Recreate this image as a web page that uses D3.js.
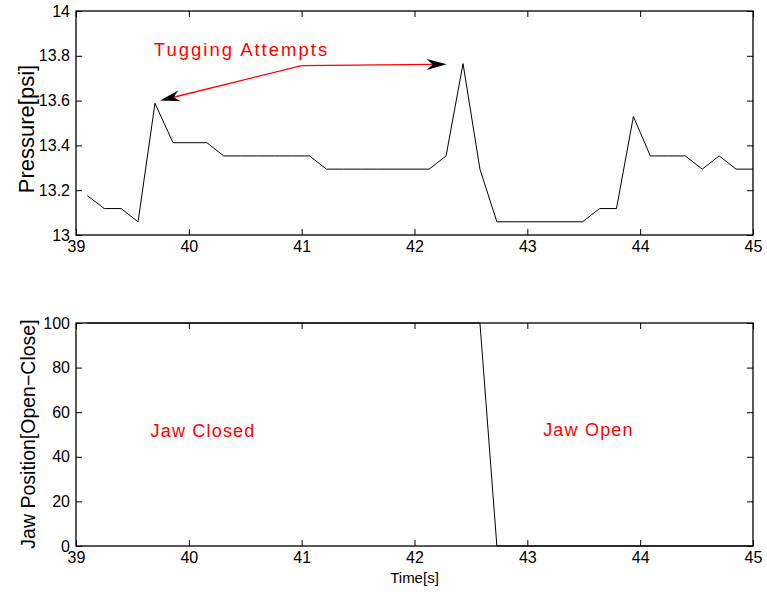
<!DOCTYPE html>
<html>
<head>
<meta charset="utf-8">
<script src="https://cdn.jsdelivr.net/npm/d3@7"></script>
<style>
  body { margin: 0; background: #fff; }
  svg { display: block; font-family: "Liberation Sans", Arial, sans-serif; }
  .tick text { font-size: 16px; fill: #000; }
  .tick line { stroke: #000; }
</style>
</head>
<body>
<div id="chart"></div>
<script>
// sample times (s) and readings
const times = [39.10, 39.25, 39.40, 39.55, 39.70, 39.86, 40.01, 40.16, 40.31, 40.46,
               40.61, 40.76, 40.92, 41.07, 41.22, 41.37, 41.52, 41.67, 41.82, 41.97,
               42.13, 42.28, 42.43, 42.58, 42.73, 42.88, 43.03, 43.18, 43.34, 43.49,
               43.64, 43.79, 43.94, 44.09, 44.24, 44.40, 44.55, 44.70, 44.85, 45.00];
const pressure = [13.176, 13.118, 13.118, 13.059, 13.588, 13.412, 13.412, 13.412, 13.353, 13.353,
                  13.353, 13.353, 13.353, 13.353, 13.294, 13.294, 13.294, 13.294, 13.294, 13.294,
                  13.294, 13.353, 13.765, 13.294, 13.059, 13.059, 13.059, 13.059, 13.059, 13.059,
                  13.118, 13.118, 13.529, 13.353, 13.353, 13.353, 13.294, 13.353, 13.294, 13.294];
const jaw = [100, 100, 100, 100, 100, 100, 100, 100, 100, 100,
             100, 100, 100, 100, 100, 100, 100, 100, 100, 100,
             100, 100, 100, 100, 0, 0, 0, 0, 0, 0,
             0, 0, 0, 0, 0, 0, 0, 0, 0, 0];

const xTicks = [39, 40, 41, 42, 43, 44, 45];
const pressureTicks = [13, 13.2, 13.4, 13.6, 13.8, 14];
const jawTicks = [0, 20, 40, 60, 80, 100];

// annotation: arrows start at one point and point at the two pressure peaks
const arrowStart = [41, 13.756];
const arrowEnds = [[39.745, 13.60], [42.285, 13.762]];

const W = 767, H = 592;
const left = 76, right = 753;

const svg = d3.select("#chart").append("svg")
    .attr("width", W).attr("height", H);

const x = d3.scaleLinear().domain([39, 45]).range([left, right]);

function drawPanel(top, bottom, yDomain, yTicks, values, yFormat) {
    const y = d3.scaleLinear().domain(yDomain).range([bottom, top]);
    const g = svg.append("g");
    const clipId = "clip" + top;
    g.append("clipPath").attr("id", clipId)
        .append("rect").attr("x", left).attr("y", top - 1)
        .attr("width", right - left).attr("height", bottom - top + 2);

    g.append("path")
        .datum(times.map((t, i) => [t, values[i]]))
        .attr("clip-path", `url(#${clipId})`)
        .attr("fill", "none").attr("stroke", "#000").attr("stroke-width", 1)
        .attr("d", d3.line().x(d => x(d[0])).y(d => y(d[1])));

    // inward ticks on all four sides like MATLAB
    g.append("g").attr("transform", `translate(0,${bottom})`)
        .call(d3.axisBottom(x).tickValues(xTicks).tickSizeInner(-6).tickSizeOuter(0).tickPadding(6).tickFormat(d3.format("d")))
        .call(a => a.select(".domain").remove());
    g.append("g").attr("transform", `translate(0,${top})`)
        .call(d3.axisTop(x).tickValues(xTicks).tickSizeInner(-6).tickSizeOuter(0).tickFormat(""))
        .call(a => a.select(".domain").remove());
    g.append("g").attr("transform", `translate(${left},0)`)
        .call(d3.axisLeft(y).tickValues(yTicks).tickSizeInner(-6).tickSizeOuter(0).tickPadding(6).tickFormat(yFormat))
        .call(a => a.select(".domain").remove());
    g.append("g").attr("transform", `translate(${right},0)`)
        .call(d3.axisRight(y).tickValues(yTicks).tickSizeInner(-6).tickSizeOuter(0).tickFormat(""))
        .call(a => a.select(".domain").remove());

    g.append("rect").attr("x", left).attr("y", top)
        .attr("width", right - left).attr("height", bottom - top)
        .attr("fill", "none").attr("stroke", "#000").attr("stroke-width", 1.3);
    return y;
}

const yP = drawPanel(11, 235, [13, 14], pressureTicks, pressure, d => d3.format("")(+d.toFixed(1)));
const yJ = drawPanel(323, 546, [0, 100], jawTicks, jaw, d3.format("d"));

// axis titles
svg.append("text").attr("transform", "translate(34,129) rotate(-90)")
    .attr("text-anchor", "middle").style("font-size", "22px").text("Pressure[psi]");
svg.append("text").attr("transform", "translate(35,434) rotate(-90)")
    .attr("text-anchor", "middle").style("font-size", "19.5px").text("Jaw Position[Open\u2212Close]");
svg.append("text").attr("x", (left + right) / 2).attr("y", 583)
    .attr("text-anchor", "middle").style("font-size", "15px").text("Time[s]");

// annotations
svg.append("text").attr("x", x(39.69)).attr("y", yP(13.8))
    .attr("fill", "#ff0000").style("font-size", "18.5px").style("letter-spacing", "2px")
    .text("Tugging Attempts");
svg.append("text").attr("x", x(39.66)).attr("y", yJ(49))
    .attr("fill", "#ff0000").style("font-size", "18px").style("letter-spacing", "1.2px")
    .text("Jaw Closed");
svg.append("text").attr("x", x(43.14)).attr("y", yJ(49.3))
    .attr("fill", "#ff0000").style("font-size", "18px").style("letter-spacing", "1.2px")
    .text("Jaw Open");

const headLen = 20, headHalf = 5.5, notch = 14;
arrowEnds.forEach(end => {
    const x0 = x(arrowStart[0]), y0 = yP(arrowStart[1]);
    const x1 = x(end[0]), y1 = yP(end[1]);
    const ang = Math.atan2(y1 - y0, x1 - x0);
    const ux = Math.cos(ang), uy = Math.sin(ang);
    const nx = x1 - ux * notch, ny = y1 - uy * notch;
    svg.append("line").attr("x1", x0).attr("y1", y0).attr("x2", nx).attr("y2", ny)
        .attr("stroke", "#ff0000").attr("stroke-width", 1.3);
    const bx = x1 - ux * headLen, by = y1 - uy * headLen;
    const pts = [
        [x1, y1],
        [bx - uy * headHalf, by + ux * headHalf],
        [nx, ny],
        [bx + uy * headHalf, by - ux * headHalf]
    ];
    svg.append("path").attr("d", "M" + pts.map(p => p.join(",")).join("L") + "Z")
        .attr("fill", "#000");
});
</script>
</body>
</html>
